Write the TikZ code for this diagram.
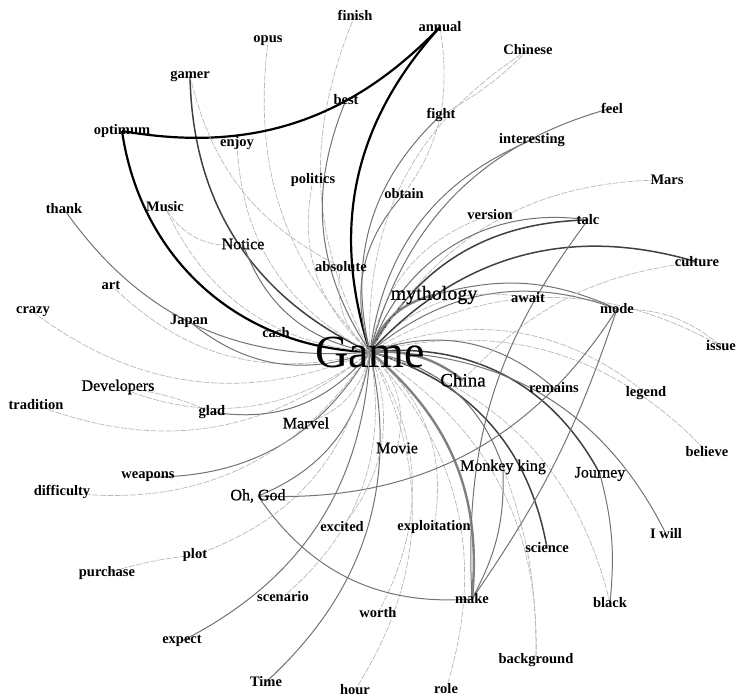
\documentclass[tikz,border=0pt]{standalone}
\usepackage{fontspec}
\setmainfont{Liberation Serif}
\newfontfamily\medserif{Liberation Serif}[FakeBold=0.6]
\pgfdeclarelayer{bg}
\pgfsetlayers{bg,main}
\tikzset{
  w/.style={font=\fontsize{14.5}{16}\selectfont\bfseries, inner sep=0pt},
  wr/.style={font=\medserif\fontsize{16}{18}\selectfont, inner sep=0pt},
  vb/.style={black, line width=2.2pt},
  db/.style={black!75, line width=1.5pt},
  tg/.style={black!50, line width=2.4pt},
  mg/.style={black!55, line width=1pt},
  lg/.style={black!28, line width=0.7pt, dash pattern=on 6pt off 1.5pt},
}
\begin{document}
\begin{tikzpicture}[x=1pt,y=1pt]
\useasboundingbox (0,0) rectangle (738,699);
% labels
\node[inner sep=0pt, font=\fontsize{46}{50}\selectfont] (Game) at (370,347) {Game};
\node[inner sep=0pt, font=\medserif\fontsize{20}{22}\selectfont] (mythology) at (434,404) {mythology};
\node[inner sep=0pt, font=\medserif\fontsize{19}{21}\selectfont] (China) at (463,319) {China};
\node[w] (finish) at (355,684) {finish};
\node[w] (annual) at (440,672) {annual};
\node[w] (opus) at (268,658) {opus};
\node[w] (Chinese) at (528,649) {Chinese};
\node[w] (gamer) at (190,623) {gamer};
\node[w] (best) at (346,599) {best};
\node[w] (feel) at (612,591) {feel};
\node[w] (fight) at (441,584) {fight};
\node[w] (optimum) at (122,568) {optimum};
\node[w] (enjoy) at (237,556) {enjoy};
\node[w] (interesting) at (532,559) {interesting};
\node[w] (politics) at (313,519) {politics};
\node[w] (Mars) at (667,519) {Mars};
\node[w] (obtain) at (404,505) {obtain};
\node[w] (thank) at (64,490) {thank};
\node[w] (Music) at (165,492) {Music};
\node[w] (version) at (490,484) {version};
\node[w] (talc) at (588,479) {talc};
\node[wr] (Notice) at (243,455) {Notice};
\node[w] (culture) at (697,437) {culture};
\node[w] (absolute) at (341,432) {absolute};
\node[w] (art) at (111,414) {art};
\node[w] (await) at (528,401) {await};
\node[w] (mode) at (617,390) {mode};
\node[w] (crazy) at (33,387) {crazy};
\node[w] (Japan) at (189,378) {Japan};
\node[w] (cash) at (276,366) {cash};
\node[w] (issue) at (721,353) {issue};
\node[w] (remains) at (554,311) {remains};
\node[w] (legend) at (646,306) {legend};
\node[wr] (Developers) at (118,312) {Developers};
\node[w] (tradition) at (36,294) {tradition};
\node[w] (glad) at (212,287) {glad};
\node[wr] (Marvel) at (306,276) {Marvel};
\node[wr] (Movie) at (397,251) {Movie};
\node[w] (believe) at (707,247) {believe};
\node[wr] (mk) at (503,232) {Monkey king};
\node[wr] (Journey) at (600,225) {Journey};
\node[w] (weapons) at (148,222) {weapons};
\node[w] (difficulty) at (62,207) {difficulty};
\node[wr] (ohgod) at (258,203) {Oh, God};
\node[w] (excited) at (342,172) {excited};
\node[w] (exploitation) at (434,172) {exploitation};
\node[w] (iwill) at (666,165) {I will};
\node[w] (science) at (547,151) {science};
\node[w] (plot) at (195,144) {plot};
\node[w] (purchase) at (107,126) {purchase};
\node[w] (scenario) at (283,102) {scenario};
\node[w] (make) at (472,100) {make};
\node[w] (worth) at (378,86) {worth};
\node[w] (black) at (610,96) {black};
\node[w] (expect) at (182,58) {expect};
\node[w] (background) at (536,39) {background};
\node[w] (Time) at (266,17) {Time};
\node[w] (hour) at (355,9) {hour};
\node[w] (role) at (446,10) {role};
\begin{pgfonlayer}{bg}
\foreach \t/\s/\b in {annual/vb/30, optimum/vb/40, gamer/db/32, opus/lg/25, finish/lg/25,
  best/mg/28, politics/lg/30, enjoy/lg/30, Notice/mg/30, Music/lg/30, absolute/lg/30,
  thank/mg/30, art/lg/30, crazy/lg/30, Japan/mg/30, Developers/lg/30, tradition/lg/30,
  glad/mg/30, Marvel/lg/30, weapons/mg/30, difficulty/lg/32, ohgod/mg/30, plot/lg/30,
  scenario/lg/30, expect/mg/30, Time/mg/30, excited/lg/30, hour/lg/30, worth/lg/30,
  exploitation/lg/30, role/lg/30, make/tg/28, background/lg/30, science/db/32,
  black/lg/30, mk/mg/30, Journey/db/34, iwill/mg/32, believe/lg/30, legend/lg/30,
  remains/mg/30, China/tg/20, issue/lg/30, mode/mg/30, await/lg/30, mythology/tg/28,
  culture/db/32, talc/db/30, version/lg/30, Mars/lg/30, interesting/mg/30, feel/mg/30,
  obtain/mg/30, fight/mg/30, Chinese/lg/30, Movie/lg/30}
  \draw[\s] (Game.center) to[bend left=\b] (\t.center);
\draw[mg] (Game.center) to[bend left=40] (talc.center);
\draw[vb] (annual.center) to[bend left=28] (optimum.center);
\draw[lg] (absolute.center) to[bend left=25] (gamer.center);
\draw[lg] (Notice.center) to[bend left=35] (Music.center);
\draw[lg] (Chinese.center) to[bend left=8] (fight.center);
\draw[lg] (annual.center) to[bend left=8] (fight.center);
\draw[lg] (fight.center) to[bend left=10] (obtain.center);
\draw[mg] (make.center) to[bend left=20] (talc.center);
\draw[mg] (mode.center) to[bend left=30] (ohgod.center);
\draw[mg] (mode.center) to[bend left=8] (make.center);
\draw[lg] (mode.center) to[bend left=20] (issue.center);
\draw[mg] (mythology.center) to[bend left=20] (mode.center);
\draw[mg] (Journey.center) to[bend left=10] (black.center);
\draw[lg] (mk.center) to[bend left=10] (background.center);
\draw[mg] (mk.center) to[bend left=15] (make.center);
\draw[mg] (make.center) to[bend left=30] (ohgod.center);
\draw[lg] (purchase.center) to[bend left=5] (plot.center);
\draw[lg] (Developers.center) to[bend left=8] (glad.center);
\draw[lg] (China.center) to[bend left=20] (culture.center);
\end{pgfonlayer}
\end{tikzpicture}
\end{document}
